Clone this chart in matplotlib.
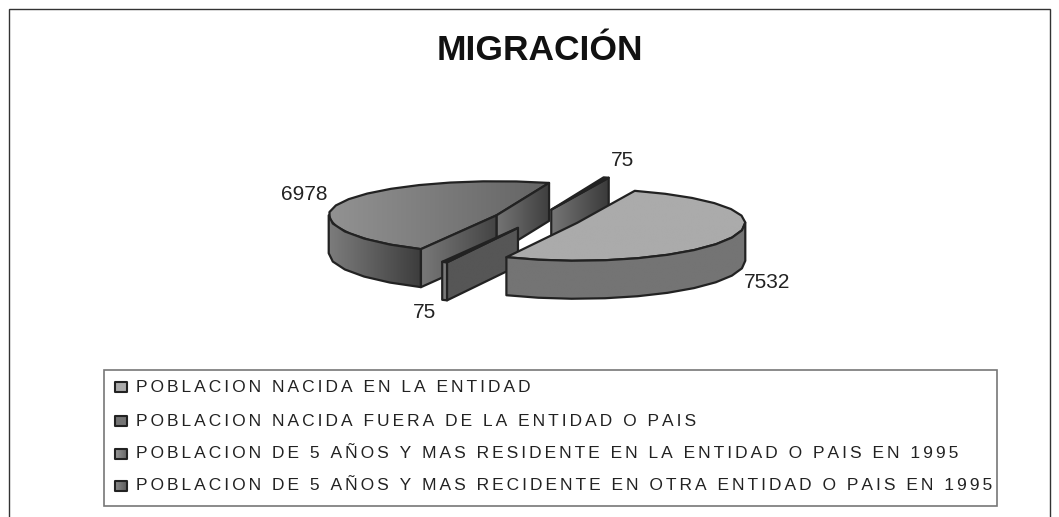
import numpy as np
import matplotlib
matplotlib.use("Agg")
import matplotlib.pyplot as plt
from matplotlib.colors import LinearSegmentedColormap
from matplotlib.patches import Polygon, Rectangle

TITLE = "MIGRACIÓN"
categories = [
    "POBLACION NACIDA EN LA ENTIDAD",
    "POBLACION NACIDA FUERA DE LA ENTIDAD O PAIS",
    "POBLACION DE 5 AÑOS Y MAS RESIDENTE EN LA ENTIDAD O PAIS EN 1995",
    "POBLACION DE 5 AÑOS Y MAS RECIDENTE EN OTRA ENTIDAD O PAIS EN 1995",
]
values = [7532, 75, 6978, 75]
value_labels = ["7532", "75", "6978", "75"]

plt.rcParams["font.family"] = ["Liberation Sans", "DejaVu Sans"]
W, H = 1059, 517
fig = plt.figure(figsize=(W / 100, H / 100), dpi=100, facecolor="white")
ax = fig.add_axes([0, 0, 1, 1])
ax.set_xlim(0, W)
ax.set_ylim(H, 0)
ax.axis("off")

# pie geometry (back half of the rim is foreshortened)
CX, CY, RX, RY_BACK, RY_FRONT, DEPTH, EXPLODE, START = 537, 219, 168, 34, 38, 38, 43.6, 70
EDGE = "#222222"
LW = 1.6

fracs = np.array(values) / sum(values) * 360
ends = START - np.cumsum(fracs)
starts = ends + fracs


def centre(a0, a1):
    m = np.radians((a0 + a1) / 2)
    return CX + EXPLODE * np.cos(m), CY - EXPLODE * np.sin(m) * RY_FRONT / RX


def rim(c, ang):
    t = np.radians(np.atleast_1d(ang))
    s = np.sin(t)
    return np.column_stack([c[0] + RX * np.cos(t), c[1] - np.where(s > 0, RY_BACK, RY_FRONT) * s])


def arc(c, a0, a1, step=11):
    n = max(int(abs(a1 - a0) / step), 1)
    return rim(c, np.linspace(a0, a1, n + 1))


def shade(pts, colours, z, lw=LW):
    pts = np.asarray(pts)
    cmap = LinearSegmentedColormap.from_list("g", colours)
    x0, x1, y0, y1 = pts[:, 0].min(), pts[:, 0].max(), pts[:, 1].min(), pts[:, 1].max()
    im = ax.imshow(np.linspace(0, 1, 128)[None, :], cmap=cmap, extent=[x0, x1, y1, y0],
                   aspect="auto", zorder=z, interpolation="bilinear", vmin=0, vmax=1)
    p = Polygon(pts, closed=True, fc="none", ec=EDGE, lw=lw, joinstyle="round", zorder=z + 0.1)
    ax.add_patch(p)
    im.set_clip_path(p)


def down(pts):
    return np.asarray(pts) + [0, DEPTH]


def wall(pts):
    pts = np.asarray(pts)
    return np.vstack([pts, down(pts)[::-1]])


c0 = centre(starts[0], ends[0])
c1 = centre(starts[1], ends[1])
c2 = centre(starts[2], ends[2])
c3 = centre(starts[3], ends[3])

# back small slice
z = 2
a, b = starts[3], ends[3]
shade(wall([c3, rim(c3, b)[0]]), ["#767676", "#3a3a3a"], z)
shade(np.vstack([[c3], arc(c3, b, a)]), ["#222222", "#222222"], z + 0.2)

# left large slice
z = 3
a, b = starts[2] + 360, ends[2] + 360
shade(np.vstack([[c2], arc(c2, b, a)]), ["#929292", "#646464"], z)
shade(wall(arc(c2, 180, a)), ["#7c7c7c", "#3c3c3c"], z + 0.2)
shade(wall([rim(c2, a)[0], c2]), ["#787878", "#444444"], z + 0.4)
shade(wall([c2, rim(c2, b)[0]]), ["#747474", "#3e3e3e"], z + 0.6)

# front small slice
z = 5
a, b = starts[1] + 360, ends[1] + 360
pa, pb = rim(c1, a)[0], rim(c1, b)[0]
shade(wall([pb, pa]), ["#7a7a7a", "#7a7a7a"], z)
shade(wall([pa, c1]), ["#565656", "#565656"], z + 0.2)
shade([c1, pb, pa], ["#222222", "#222222"], z + 0.4)

# right large slice
z = 6
a, b = starts[0], ends[0]
shade(np.vstack([[c0], arc(c0, b, a)]), ["#ababab", "#ababab"], z)
shade(wall(arc(c0, b, 0)), ["#747474", "#747474"], z + 0.2)

# value labels
lab = dict(fontsize=15, color="#222222", ha="center", va="center", zorder=9)
ax.text(767, 282, value_labels[0], **lab)
ax.text(425, 312, value_labels[1], **lab)
ax.text(304, 195, value_labels[2], **lab)
ax.text(622, 160, value_labels[3], **lab)

# title
ax.text(540, 51, TITLE, fontsize=25.5, fontweight="bold", ha="center", va="center", color="#111111")

# outer frame (open at the bottom)
ax.plot([9, 9, 1050, 1050], [H, 9, 9, H], color="#333333", lw=1.0, solid_joinstyle="miter")

# legend
ax.add_patch(Rectangle((104, 370), 893, 136, fc="white", ec="#777777", lw=1.2, zorder=1))
ys = [387, 421, 454, 486]
marker_cols = [["#ababab", "#ababab"], ["#747474", "#747474"], ["#9a9a9a", "#666666"], ["#8c8c8c", "#5a5a5a"]]
for name, y, col in zip(categories, ys, marker_cols):
    shade([(115, y - 5), (127, y - 5), (127, y + 5), (115, y + 5)], col, 2, lw=1.5)
    ax.text(136, y, "\u200a\u200a".join(name), fontsize=12.5, color="#222222",
            ha="left", va="center", zorder=2)

ax.set_xlim(0, W)
ax.set_ylim(H, 0)
fig.savefig("out.png", dpi=100)
